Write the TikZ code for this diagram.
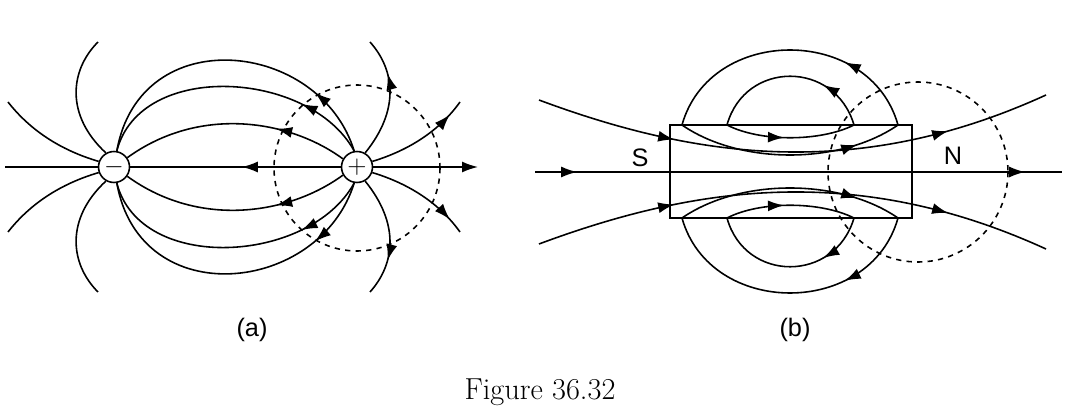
\documentclass[tikz,border=0pt]{standalone}
\usepackage{fontspec}
\newfontfamily\labelfont{Liberation Sans}
\usetikzlibrary{arrows.meta,decorations.markings}
\tikzset{
  fieldline/.style={line width=0.9pt},
  flowat/.style={postaction={decorate,decoration={markings,
      mark=at position #1 with {\arrow{Latex[length=3.2mm,width=2.2mm]}}}}},
  charge/.style={circle,draw,line width=0.9pt,minimum size=0.62cm,inner sep=0pt,font=\Large},
}
\begin{document}
\begin{tikzpicture}[x=0.02cm,y=-0.02cm]
    \useasboundingbox (0,0) rectangle (1080,415);

    % (a) the two charges
    \node[charge] (neg) at (114,167) {$-$};
    \node[charge] (pos) at (357,167) {$+$};
    \draw[dashed,line width=0.9pt] (357,168) circle (83);

    % lines from + to -
    \draw[fieldline,flowat=0.22] (pos.100) .. controls (320,40) and (140,20) .. (neg.80);
    \draw[fieldline,flowat=0.25] (pos.100) .. controls (310,70) and (140,60) .. (neg.80);
    \draw[fieldline,flowat=0.32] (pos.150) .. controls (290,120) and (200,105) .. (neg.35);
    \draw[fieldline,flowat=0.47] (pos.west) -- (neg.east);
    \draw[fieldline,flowat=0.32] (pos.210) .. controls (290,214) and (200,229) .. (neg.325);
    \draw[fieldline,flowat=0.25] (pos.260) .. controls (310,264) and (140,274) .. (neg.280);
    \draw[fieldline,flowat=0.22] (pos.260) .. controls (320,294) and (140,314) .. (neg.280);

    % lines leaving +
    \draw[fieldline,flowat=0.7] (pos.60) .. controls (400,110) and (395,70) .. (370,42);
    \draw[fieldline,flowat=0.85] (pos.20) .. controls (410,150) and (440,130) .. (460,102);
    \draw[fieldline,-{Latex[length=3.2mm,width=2.2mm]}] (pos.east) -- (478,167);
    \draw[fieldline,flowat=0.85] (pos.340) .. controls (410,184) and (440,204) .. (460,232);
    \draw[fieldline,flowat=0.7] (pos.300) .. controls (400,224) and (395,264) .. (370,292);

    % lines arriving at -
    \draw[fieldline] (neg.120) .. controls (65,115) and (70,70) .. (98,42);
    \draw[fieldline] (neg.160) .. controls (60,150) and (30,130) .. (8,102);
    \draw[fieldline] (neg.west) -- (5,167);
    \draw[fieldline] (neg.200) .. controls (60,184) and (30,204) .. (8,232);
    \draw[fieldline] (neg.240) .. controls (65,219) and (70,264) .. (98,292);

    \node[font=\labelfont\Large] (capa) at (252,330) {(a)};

    % (b) bar magnet
    \node[draw,line width=0.9pt,minimum width=4.84cm,minimum height=1.86cm,inner sep=0pt]
        (magnet) at (791,171.5) {};
    \node[font=\labelfont\Large] (south) at (640,158) {S};
    \node[font=\labelfont\Large] (north) at (953,156) {N};
    \draw[dashed,line width=0.9pt] (918,172) circle (90);

    % through lines
    \draw[fieldline,flowat=0.08,flowat=0.93] (535,172) -- (1062,172);
    \draw[fieldline,flowat=0.27,flowat=0.8] (539,100) .. controls (700,160) and (860,180) .. (1046,95);
    \draw[fieldline,flowat=0.27,flowat=0.8] (539,244) .. controls (700,184) and (860,164) .. (1046,249);

    % upper loops
    \coordinate (tl) at (682,125);  \coordinate (tr) at (898,125);
    \coordinate (ti) at (727,125);  \coordinate (tj) at (854,125);
    \draw[fieldline,flowat=0.8] (tl) .. controls (740,165) and (840,165) .. (tr);
    \draw[fieldline,flowat=0.3] (tr) .. controls (870,25) and (710,25) .. (tl);
    \draw[fieldline,flowat=0.45] (ti) .. controls (760,142) and (820,142) .. (tj);
    \draw[fieldline,flowat=0.3] (tj) .. controls (835,60) and (745,60) .. (ti);

    % lower loops
    \coordinate (bl) at (682,218);  \coordinate (br) at (898,218);
    \coordinate (bi) at (727,218);  \coordinate (bj) at (854,218);
    \draw[fieldline,flowat=0.8] (bl) .. controls (740,178) and (840,178) .. (br);
    \draw[fieldline,flowat=0.3] (br) .. controls (870,318) and (710,318) .. (bl);
    \draw[fieldline,flowat=0.45] (bi) .. controls (760,201) and (820,201) .. (bj);
    \draw[fieldline,flowat=0.3] (bj) .. controls (835,283) and (745,283) .. (bi);

    \node[font=\labelfont\Large] (capb) at (795,330) {(b)};
    \node[font=\LARGE] (caption) at (540,392) {Figure 36.32};
\end{tikzpicture}
\end{document}
